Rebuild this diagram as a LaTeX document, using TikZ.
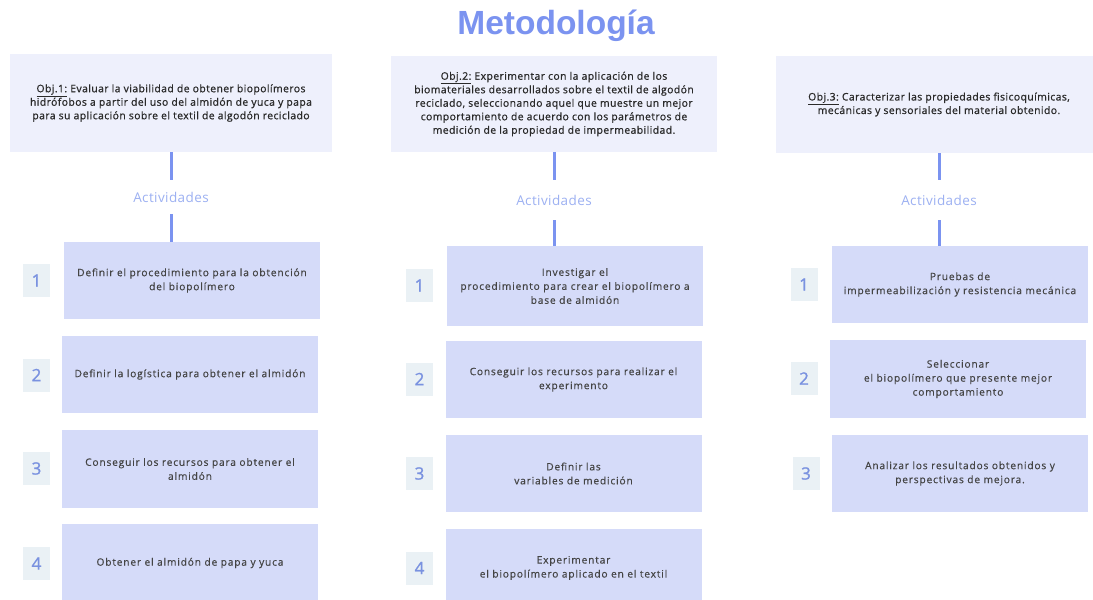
\documentclass[tikz,border=0pt]{standalone}
\usepackage{fontspec}
\setmainfont{Open Sans}
\newfontfamily\titlefont{Liberation Sans}
\newfontfamily\objfont[LetterSpace=4,FakeBold=0.8]{Open Sans}
\newfontfamily\actfont[LetterSpace=8,FakeBold=0.4]{Open Sans}
\newfontfamily\lblfont[LetterSpace=3]{Open Sans}
\newfontfamily\numfont[FakeBold=1.2]{Open Sans}
\definecolor{conn}{HTML}{7B93F0}
\definecolor{objfill}{HTML}{EEF0FC}
\definecolor{actfill}{HTML}{D5DBF9}
\definecolor{numfill}{HTML}{EAF1F5}
\definecolor{numtext}{HTML}{7A92E0}
\definecolor{acttext}{HTML}{9CB0F2}
\definecolor{bodytext}{HTML}{2A2A2A}
\tikzset{
  objbox/.style={fill=objfill, draw=none, align=center, inner sep=0pt,
    font=\objfont\fontsize{10.4}{13.5}\selectfont, text=bodytext},
  actbox/.style={fill=actfill, draw=none, align=center, inner sep=0pt,
    minimum width=256pt, font=\actfont\fontsize{10.2}{14}\selectfont, text=bodytext!88!white},
  numbox/.style={fill=numfill, draw=none, inner sep=0pt, minimum width=27pt,
    minimum height=33pt, font=\numfont\fontsize{17}{17}\selectfont, text=numtext},
  actlabel/.style={inner sep=0pt, font=\lblfont\fontsize{13.5}{13.5}\selectfont, text=acttext},
  conn/.style={draw=conn, line width=3pt},
}
\begin{document}
\begin{tikzpicture}[x=1pt,y=-1pt]
\useasboundingbox[fill=white] (0,0) rectangle (1093,600);
\node[font=\titlefont\bfseries\fontsize{33.5}{33.5}\selectfont, text=conn, inner sep=0pt] (title) at (556,26) {Metodología};

% Column 1
\node[objbox, minimum width=322pt, minimum height=98pt] (o1) at (171,103)
  {\underline{Obj.1:} Evaluar la viabilidad de obtener biopolímeros\\hidrófobos a partir del uso del almidón de yuca y papa\\para su aplicación sobre el textil de algodón reciclado};
\node[actlabel, minimum height=34pt] (a1) at (171,197) {Actividades};
\node[actbox, minimum height=77pt] (b11) at (192,280.5) {Definir el procedimiento para la obtención\\del biopolímero};
\node[actbox, minimum height=77pt] (b12) at (190,374.5) {Definir la logística para obtener el almidón};
\node[actbox, minimum height=78pt] (b13) at (190,469) {Conseguir los recursos para obtener el\\almidón};
\node[actbox, minimum height=78pt] (b14) at (190,563) {Obtener el almidón de papa y yuca};
\node[numbox] (n11) at (36.5,280.5) {1};
\node[numbox] (n12) at (36.5,375) {2};
\node[numbox] (n13) at (36.5,468.5) {3};
\node[numbox] (n14) at (36.5,563.5) {4};
\draw[conn] (o1.south) -- (a1.north);
\draw[conn] (a1.south) -- (a1.south |- b11.north);

% Column 2
\node[objbox, minimum width=326pt, minimum height=96pt] (o2) at (554,104)
  {\underline{Obj.2:} Experimentar con la aplicación de los\\biomateriales desarrollados sobre el textil de algodón\\reciclado, seleccionando aquel que muestre un mejor\\comportamiento de acuerdo con los parámetros de\\medición de la propiedad de impermeabilidad.};
\node[actlabel, minimum height=40pt] (a2) at (554,200) {Actividades};
\node[actbox, minimum height=80pt] (b21) at (575,286) {Investigar el\\procedimiento para crear el biopolímero a\\base de almidón};
\node[actbox, minimum height=77pt] (b22) at (573.5,379.5) {Conseguir los recursos para realizar el\\experimento};
\node[actbox, minimum height=77pt] (b23) at (573.5,473.5) {Definir las\\variables de medición};
\node[actbox, minimum height=78pt] (b24) at (573.5,568) {Experimentar\\el biopolímero aplicado en el textil};
\node[numbox] (n21) at (419.5,285.5) {1};
\node[numbox] (n22) at (419.5,379) {2};
\node[numbox] (n23) at (419.5,473.5) {3};
\node[numbox] (n24) at (419.5,568) {4};
\draw[conn] (o2.south) -- (a2.north);
\draw[conn] (a2.south) -- (a2.south |- b21.north);

% Column 3
\node[objbox, minimum width=326pt, minimum height=97pt] (o3) at (939,104.5)
  {\underline{Obj.3:} Caracterizar las propiedades fisicoquímicas,\\mecánicas y sensoriales del material obtenido.};
\node[actlabel, minimum height=40pt] (a3) at (939,200) {Actividades};
\node[actbox, minimum height=77pt] (b31) at (960,284.5) {Pruebas de\\impermeabilización y resistencia mecánica};
\node[actbox, minimum height=78pt] (b32) at (958,379) {Seleccionar\\el biopolímero que presente mejor\\comportamiento};
\node[actbox, minimum height=77pt] (b33) at (960,473.5) {Analizar los resultados obtenidos y\\perspectivas de mejora.};
\node[numbox] (n31) at (804,284.5) {1};
\node[numbox] (n32) at (804,378.5) {2};
\node[numbox] (n33) at (806,473.5) {3};
\draw[conn] (o3.south) -- (a3.north);
\draw[conn] (a3.south) -- (a3.south |- b31.north);
\end{tikzpicture}
\end{document}
